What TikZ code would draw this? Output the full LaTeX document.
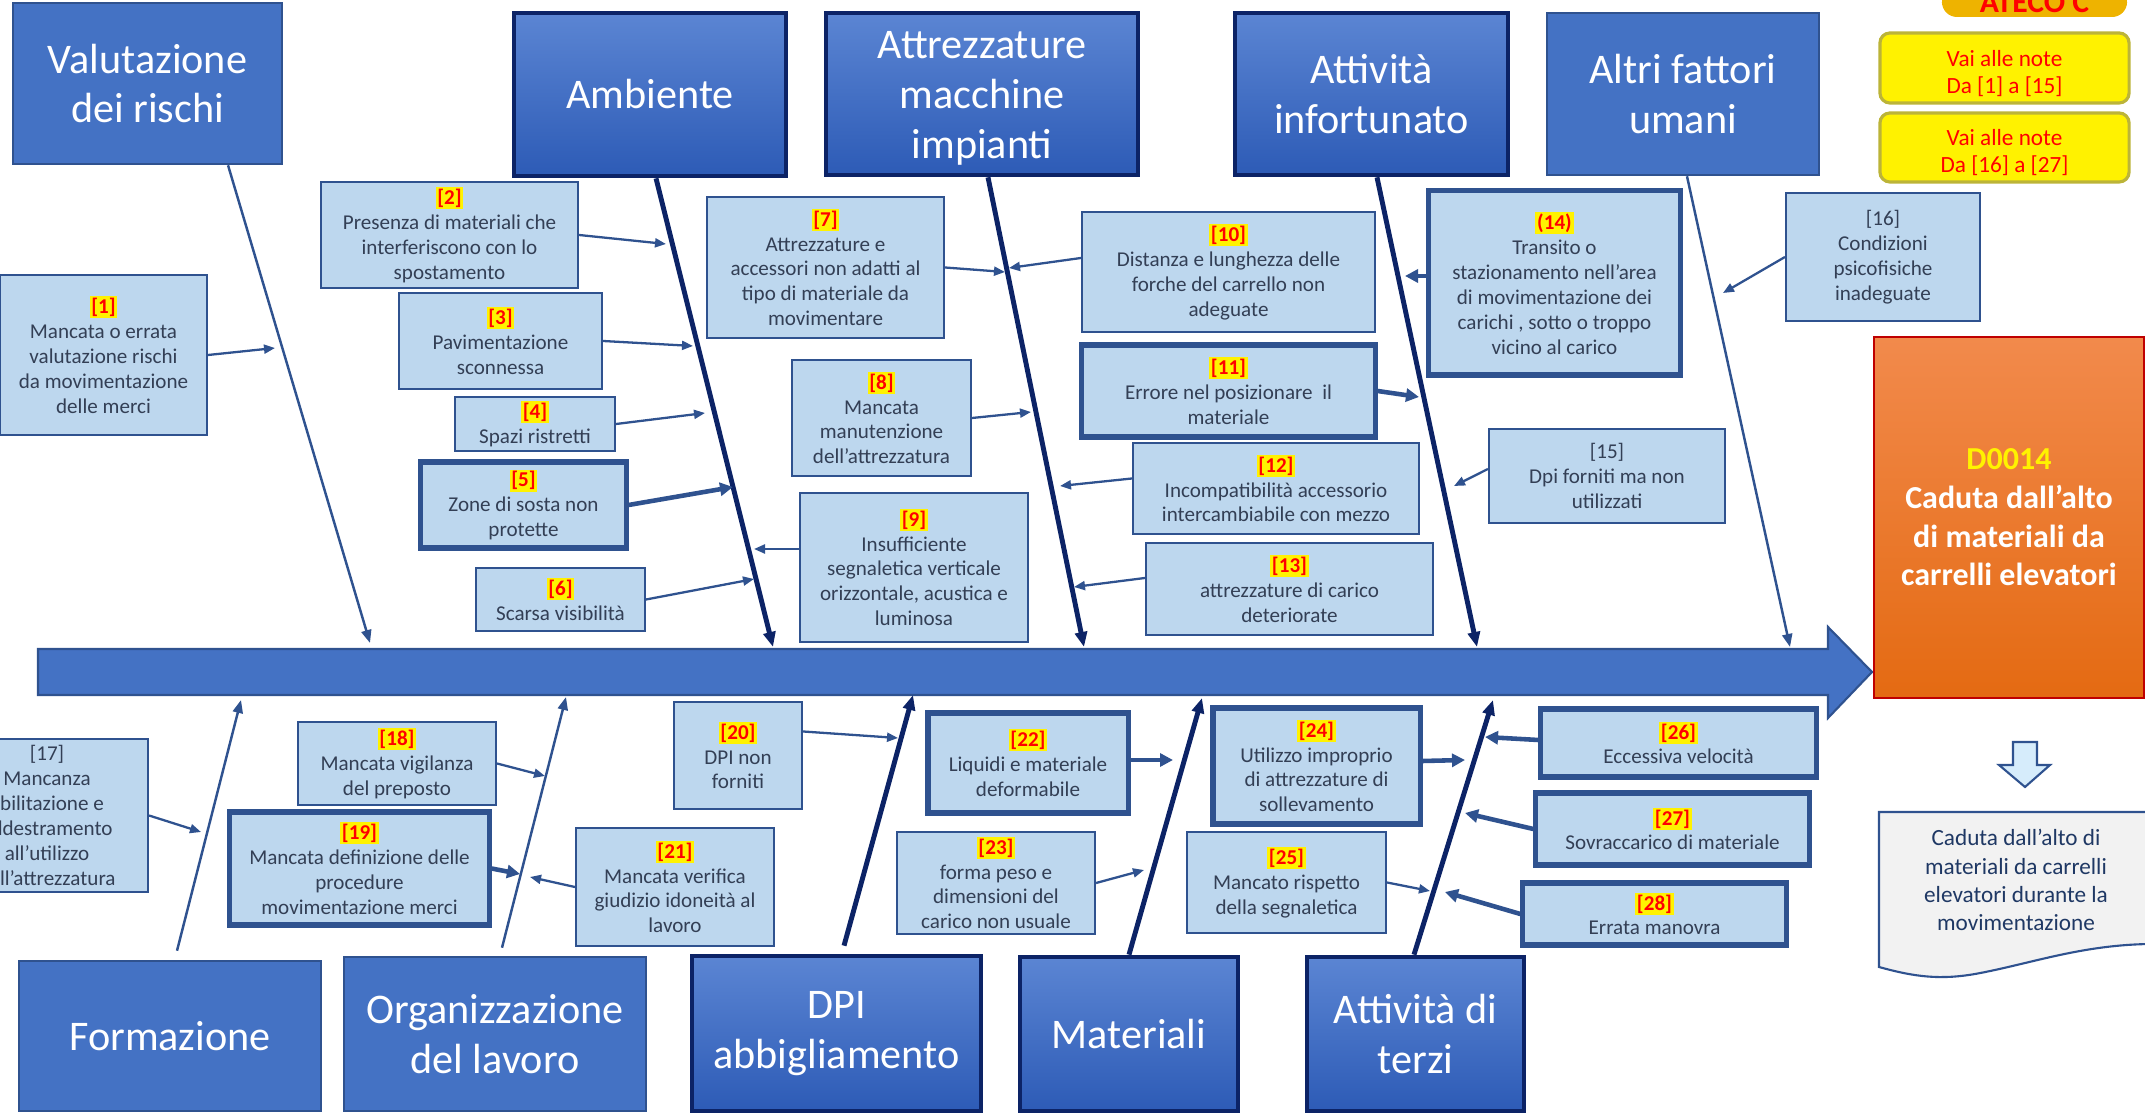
\documentclass[tikz,border=0pt]{standalone}
\usepackage{fontspec}
\setmainfont{Carlito}
\usepackage{tikz}
\usetikzlibrary{arrows.meta, positioning, calc}
\usepackage{xcolor}

\definecolor{catblue}{HTML}{4472C4}
\definecolor{catedge}{HTML}{2F528F}
\definecolor{cattop}{HTML}{5B85D3}
\definecolor{catbot}{HTML}{2D5BB6}
\definecolor{navy}{HTML}{0C2366}
\definecolor{causefill}{HTML}{BDD7EE}
\definecolor{causetext}{HTML}{333F55}
\definecolor{orangetop}{HTML}{F28A4C}
\definecolor{orangebot}{HTML}{E46A12}
\definecolor{gold}{HTML}{EEB300}
\definecolor{paper}{HTML}{F2F2F2}
\definecolor{arrowfill}{HTML}{D6ECFB}
\definecolor{doctext}{HTML}{1F3864}

\newcommand{\nr}[1]{\colorbox{yellow}{\textcolor{red}{\textbf{#1}}}}
\setlength{\fboxsep}{0.5pt}

\tikzset{
  cat/.style={draw=catedge, fill=catblue, line width=0.7pt, text=white, align=center,
    inner sep=0pt, font=\fontsize{12}{14.2}\selectfont},
  catH/.style={cat, draw=navy, top color=cattop, bottom color=catbot, line width=1.3pt},
  cause/.style={draw=catedge, fill=causefill, line width=0.57pt, text=causetext, align=center,
    inner sep=0pt, font=\fontsize{6}{7.1}\selectfont},
  causeH/.style={cause, line width=1.45pt},
  bone/.style={catedge, line width=0.7pt, -{Triangle[length=0.13cm, width=0.1cm]}},
  boneH/.style={navy, line width=1.4pt, -{Triangle[length=0.15cm, width=0.12cm]}},
  link/.style={catedge, line width=0.65pt, -{Triangle[length=0.11cm, width=0.09cm]}},
  linkH/.style={catedge, line width=1.3pt, -{Triangle[length=0.13cm, width=0.13cm]}},
  note/.style={rounded corners=0.1cm, fill=yellow, draw=yellow!70!black, line width=0.9pt,
    text=red, align=center, inner sep=0pt, font=\fontsize{6.6}{7.7}\selectfont}
}

\begin{document}
\begin{tikzpicture}[x=0.01cm, y=-0.01cm]
  \useasboundingbox (0,0) rectangle (2145,1113);
  \clip (0,0) rectangle (2145,1113);

  % spine
  \draw[catedge, fill=catblue, line width=0.6pt] (38,649) -- (1828,649) -- (1828,627) -- (1872,672)
    -- (1828,718) -- (1828,695) -- (38,695) -- cycle;

  % categories
  \node[cat, minimum width=2.69cm, minimum height=1.61cm] (val) at (147.5,83.5) {Valutazione\\dei rischi};
  \node[catH, minimum width=2.72cm, minimum height=1.63cm] (amb) at (650,94.5) {Ambiente};
  \node[catH, minimum width=3.12cm, minimum height=1.62cm] (att) at (982,94) {\strut Attrezzature\\macchine\\impianti};
  \node[catH, minimum width=2.73cm, minimum height=1.62cm] (inf) at (1371.5,94) {Attività\\infortunato};
  \node[cat, minimum width=2.72cm, minimum height=1.62cm] (alt) at (1683,94) {Altri fattori\\umani};
  \node[cat, minimum width=3.02cm, minimum height=1.50cm] (frm) at (170,1036) {Formazione};
  \node[cat, minimum width=3.02cm, minimum height=1.54cm] (org) at (495,1034) {Organizzazione\\del lavoro};
  \node[catH, minimum width=2.89cm, minimum height=1.55cm] (dpi) at (836.5,1033.5) {DPI\\abbigliamento};
  \node[catH, minimum width=2.18cm, minimum height=1.54cm] (mtr) at (1129,1034) {Materiali};
  \node[catH, minimum width=2.17cm, minimum height=1.54cm] (ter) at (1415.5,1034) {Attività di\\terzi};

  % bone ends on the spine
  \coordinate (valE) at (370,643);
  \coordinate (ambE) at (773,647);
  \coordinate (attE) at (1084,647);
  \coordinate (infE) at (1477,647);
  \coordinate (altE) at (1790,647);
  \coordinate (frmE) at (241,700);
  \coordinate (orgE) at (566,697);
  \coordinate (dpiE) at (913,695);
  \coordinate (mtrE) at (1202,698);
  \coordinate (terE) at (1493,700);

  \draw[bone] ([xshift=0.805cm]val.south) -- (valE);
  \draw[boneH] ([xshift=0.06cm]amb.south) -- (ambE);
  \draw[boneH] ([xshift=0.06cm]att.south) -- (attE);
  \draw[boneH] ([xshift=0.055cm]inf.south) -- (infE);
  \draw[bone] ([xshift=0.04cm]alt.south) -- (altE);
  \draw[bone] ([xshift=0.07cm, yshift=0.09cm]frm.north) -- (frmE);
  \draw[bone] ([xshift=0.07cm, yshift=0.08cm]org.north) -- (orgE);
  \draw[boneH] ([xshift=0.075cm, yshift=0.08cm]dpi.north) -- (dpiE);
  \draw[boneH] (mtr.north) -- (mtrE);
  \draw[boneH] ([xshift=-0.015cm]ter.north) -- (terE);

  % causes, upper half
  \node[cause, minimum width=2.07cm, minimum height=1.60cm] (c1) at (103.5,355) {\nr{[1]}\\Mancata o errata\\valutazione rischi\\da movimentazione\\delle merci};
  \node[cause, minimum width=2.57cm, minimum height=1.06cm] (c2) at (449.5,235) {\nr{[2]}\\Presenza di materiali che\\interferiscono con lo\\spostamento};
  \node[cause, minimum width=2.03cm, minimum height=0.96cm] (c3) at (500.5,341) {\nr{[3]}\\Pavimentazione\\sconnessa};
  \node[cause, minimum width=1.60cm, minimum height=0.54cm] (c4) at (535,424) {\nr{[4]}\\Spazi ristretti};
  \node[causeH, minimum width=2.05cm, minimum height=0.86cm] (c5) at (523.5,505) {\nr{[5]}\\Zone di sosta non\\protette};
  \node[cause, minimum width=1.69cm, minimum height=0.63cm] (c6) at (560.5,599.5) {\nr{[6]}\\Scarsa visibilità};
  \node[cause, minimum width=2.37cm, minimum height=1.41cm] (c7) at (825.5,267.5) {\nr{[7]}\\Attrezzature e\\accessori non adatti al\\tipo di materiale da\\movimentare};
  \node[cause, minimum width=1.79cm, minimum height=1.16cm] (c8) at (881.5,418) {\nr{[8]}\\Mancata\\manutenzione\\dell'attrezzatura};
  \node[cause, minimum width=2.28cm, minimum height=1.49cm] (c9) at (914,567.5) {\nr{[9]}\\Insufficiente\\segnaletica verticale\\orizzontale, acustica e\\luminosa};
  \node[cause, minimum width=2.93cm, minimum height=1.20cm] (c10) at (1228.5,272) {\nr{[10]}\\Distanza e lunghezza delle\\forche del carrello non\\adeguate};
  \node[causeH, minimum width=2.93cm, minimum height=0.92cm] (c11) at (1228.5,391) {\nr{[11]}\\Errore nel posizionare~~il\\materiale};
  \node[cause, minimum width=2.86cm, minimum height=0.91cm] (c12) at (1276,488.5) {\nr{[12]}\\Incompatibilità accessorio\\intercambiabile con mezzo};
  \node[cause, minimum width=2.87cm, minimum height=0.92cm] (c13) at (1289.5,589) {\nr{[13]}\\attrezzature di carico\\deteriorate};
  \node[causeH, minimum width=2.51cm, minimum height=1.84cm] (c14) at (1554.5,283) {\nr{(14)}\\Transito o\\stazionamento nell'area\\di movimentazione dei\\carichi , sotto o troppo\\vicino al carico};
  \node[cause, minimum width=2.36cm, minimum height=0.94cm] (c15) at (1607,476) {[15]\\Dpi forniti ma non\\utilizzati};
  \node[cause, minimum width=1.94cm, minimum height=1.28cm] (c16) at (1883,257) {[16]\\Condizioni\\psicofisiche\\inadeguate};

  % causes, lower half
  \node[cause, minimum width=2.02cm, minimum height=1.53cm] (c17) at (47,815.5) {[17]\\Mancanza\\abilitazione e\\addestramento\\all'utilizzo\\dell'attrezzatura};
  \node[cause, minimum width=1.98cm, minimum height=0.83cm] (c18) at (397,763.5) {\nr{[18]}\\Mancata vigilanza\\del preposto};
  \node[causeH, minimum width=2.59cm, minimum height=1.13cm] (c19) at (359.5,868.5) {\nr{[19]}\\Mancata definizione delle\\procedure\\movimentazione merci};
  \node[cause, minimum width=1.28cm, minimum height=1.07cm] (c20) at (738,755.5) {\nr{[20]}\\DPI non\\forniti};
  \node[cause, minimum width=1.98cm, minimum height=1.18cm] (c21) at (675,887) {\nr{[21]}\\Mancata verifica\\giudizio idoneità al\\lavoro};
  \node[causeH, minimum width=2.00cm, minimum height=1.00cm] (c22) at (1028,763) {\nr{[22]}\\Liquidi e materiale\\deformabile};
  \node[cause, minimum width=1.98cm, minimum height=1.02cm] (c23) at (996,883) {\nr{[23]}\\forma peso e\\dimensioni del\\carico non usuale};
  \node[causeH, minimum width=2.07cm, minimum height=1.16cm] (c24) at (1316.5,766) {\nr{[24]}\\Utilizzo improprio\\di attrezzature di\\sollevamento};
  \node[cause, minimum width=1.99cm, minimum height=1.01cm] (c25) at (1286.5,882.5) {\nr{[25]}\\Mancato rispetto\\della segnaletica};
  \node[causeH, minimum width=2.75cm, minimum height=0.68cm] (c26) at (1678.5,743) {\nr{[26]}\\Eccessiva velocità};
  \node[causeH, minimum width=2.73cm, minimum height=0.72cm] (c27) at (1672.5,829) {\nr{[27]}\\Sovraccarico di materiale};
  \node[causeH, minimum width=2.63cm, minimum height=0.62cm] (c28) at (1654.5,914) {\nr{[28]}\\Errata manovra};

  % arrow ends on the bones
  \coordinate (e1) at (275,348);
  \coordinate (e2) at (666,244);
  \coordinate (e3) at (693,346);
  \coordinate (e4) at (705,413);
  \coordinate (e5) at (733,487);
  \coordinate (e6) at (754,579);
  \coordinate (e7) at (1005,272);
  \coordinate (e8) at (1031,412);
  \coordinate (e9) at (754,549);
  \coordinate (e10) at (1009,268);
  \coordinate (e11) at (1419,397);
  \coordinate (e12) at (1060,486);
  \coordinate (e13) at (1074,587);
  \coordinate (e14) at (1405,276);
  \coordinate (e15) at (1454,486);
  \coordinate (e16) at (1723,293);
  \coordinate (e17) at (201,832);
  \coordinate (e18) at (545,776);
  \coordinate (e19) at (520,874);
  \coordinate (e20) at (898,738);
  \coordinate (e21) at (530,877);
  \coordinate (e22) at (1173,760);
  \coordinate (e23) at (1144,870);
  \coordinate (e24) at (1465,760);
  \coordinate (e25) at (1430,891);
  \coordinate (e26) at (1485,737);
  \coordinate (e27) at (1465,813);
  \coordinate (e28) at (1445,892);

  \draw[link] (c1.east) -- (e1);
  \draw[link] (c2.east) -- (e2);
  \draw[link] (c3.east) -- (e3);
  \draw[link] (c4.east) -- (e4);
  \draw[linkH] (c5.east) -- (e5);
  \draw[link] (c6.east) -- (e6);
  \draw[link] (c7.east) -- (e7);
  \draw[link] (c8.east) -- (e8);
  \draw[link] (c9.west |- e9) -- (e9);
  \draw[link] ([yshift=0.14cm]c10.west) -- (e10);
  \draw[linkH] (c11.east) -- (e11);
  \draw[link] ([yshift=0.1cm]c12.west) -- (e12);
  \draw[link] ([yshift=0.11cm]c13.west) -- (e13);
  \draw[linkH] (c14.west |- e14) -- (e14);
  \draw[link] ([yshift=0.07cm]c15.west) -- (e15);
  \draw[link] (c16.west) -- (e16);
  \draw[link] (c17.east) -- (e17);
  \draw[link] (c18.east) -- (e18);
  \draw[linkH] (c19.east) -- (e19);
  \draw[link] ([yshift=0.24cm]c20.east) -- (e20);
  \draw[link] (c21.west) -- (e21);
  \draw[linkH] (c22.east |- e22) -- (e22);
  \draw[link] (c23.east) -- (e23);
  \draw[linkH] ([yshift=0.05cm]c24.east) -- (e24);
  \draw[link] (c25.east) -- (e25);
  \draw[linkH] ([yshift=0.03cm]c26.west) -- (e26);
  \draw[linkH] (c27.west) -- (e27);
  \draw[linkH] (c28.west) -- (e28);

  % event and notes
  \node[draw=red!75!black, top color=orangetop, bottom color=orangebot, line width=0.6pt,
    minimum width=2.70cm, minimum height=3.61cm, inner sep=0pt, text=white, align=center,
    font=\fontsize{9.1}{11}\selectfont\bfseries] (evt) at (2009,517.5)
    {\textcolor{yellow}{D0014}\\Caduta dall'alto\\di materiali da\\carrelli elevatori};
  \node[fill=gold, rounded corners=0.15cm, minimum width=1.85cm, minimum height=0.29cm, inner sep=0pt,
    text=red, font=\fontsize{9}{10}\selectfont\bfseries] (ateco) at (2034.5,2.5) {ATECO C};
  \node[note, minimum width=2.49cm, minimum height=0.70cm] (n1) at (2004.5,68) {\rule{0pt}{0.27cm}Vai alle note\\Da [1] a [15]};
  \node[note, minimum width=2.49cm, minimum height=0.69cm] (n2) at (2004.5,147.5) {\rule{0pt}{0.27cm}Vai alle note\\Da [16] a [27]};

  \draw[catedge, fill=arrowfill, line width=0.6pt] (2013,742) -- (2037,742) -- (2037,765) -- (2050,765)
    -- (2025,787) -- (1999,765) -- (2013,765) -- cycle;
  \draw[catedge, fill=paper, line width=0.6pt] (2150,944) -- (2150,812) -- (1879,812) -- (1879,967)
    .. controls (1915,977) and (1940,980) .. (1975,974) .. controls (2030,964) and (2080,945) .. (2150,944);
  \node[text=doctext, align=center, font=\fontsize{6.6}{8}\selectfont] (doc) at (2016,880)
    {Caduta dall'alto di\\materiali da carrelli\\elevatori durante la\\movimentazione};
\end{tikzpicture}
\end{document}
